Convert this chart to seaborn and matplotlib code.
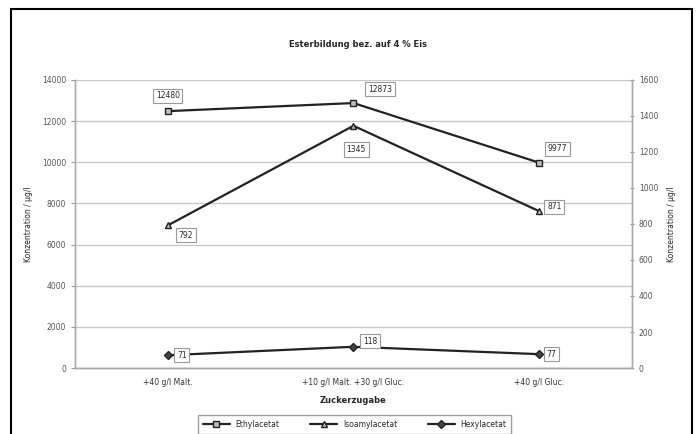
import matplotlib
matplotlib.use("Agg")
import matplotlib.pyplot as plt
import matplotlib.patches as mpatches
import pandas as pd
import seaborn as sns

categories = ['+40 g/l Malt.', '+10 g/l Malt. +30 g/l Gluc.', '+40 g/l Gluc.']
ethylacetat = [12480, 12873, 9977]
isoamylacetat = [792, 1345, 871]
hexylacetat = [71, 118, 77]

title = 'Esterbildung bez. auf 4 % Eis'
ylabel = 'Konzentration / µg/l'
xlabel = 'Zuckerzugabe'

sns.set_style('white')
plt.rcParams['font.family'] = ['DejaVu Sans']

df = pd.DataFrame({'pos': range(len(categories)), 'Ethylacetat': ethylacetat,
                   'Isoamylacetat': isoamylacetat, 'Hexylacetat': hexylacetat})

fig = plt.figure(figsize=(6.97, 4.34), dpi=100)
ax = fig.add_axes([0.1076, 0.152, 0.799, 0.664])
ax2 = ax.twinx()

sns.lineplot(data=df, x='pos', y='Ethylacetat', ax=ax, color='#222222', lw=1.6,
             marker='s', ms=5, mfc='#bbbbbb', mec='#222222', mew=1, label='Ethylacetat', legend=False)
sns.lineplot(data=df, x='pos', y='Isoamylacetat', ax=ax2, color='#222222', lw=1.6,
             marker='^', ms=5, mfc='#bbbbbb', mec='#222222', mew=1, label='Isoamylacetat', legend=False)
sns.lineplot(data=df, x='pos', y='Hexylacetat', ax=ax2, color='#222222', lw=1.6,
             marker='D', ms=4, mfc='#444444', mec='#222222', mew=1, label='Hexylacetat', legend=False)

ax.set_xlim(-0.5, 2.5)
ax.set_ylim(0, 14000)
ax2.set_ylim(0, 1600)
ax.set_yticks(range(0, 14001, 2000))
ax2.set_yticks(range(0, 1601, 200))
ax.set_xticks([0, 1, 2])
ax.set_xticklabels(categories)
ax.set_xticks([0.5, 1.5], minor=True)
ax.tick_params(axis='x', which='major', length=0, labelsize=5.5, colors='#333333', pad=7)
ax.tick_params(axis='x', which='minor', length=3, color='#999999')
ax.tick_params(axis='y', length=3, labelsize=5.5, colors='#555555', color='#999999')
ax2.tick_params(axis='y', length=3, direction='inout', labelsize=5.5, colors='#555555', color='#999999')
ax.yaxis.grid(True, color='#c8c8c8', lw=1)
ax.set_axisbelow(True)
for a in (ax, ax2):
    for s in a.spines.values():
        s.set_color('#aaaaaa')
        s.set_linewidth(1)
    a.spines['top'].set_visible(False)
ax.set_xlabel(xlabel, fontsize=6, fontweight='bold', labelpad=7)
ax.set_ylabel(ylabel, fontsize=5.5, labelpad=6)
ax2.set_ylabel(ylabel, fontsize=5.5, labelpad=6)
fig.text(0.513, 0.897, title, ha='center', va='center', fontsize=6, fontweight='bold')

box = dict(boxstyle='square,pad=0.35', fc='white', ec='#999999', lw=0.8)
def lab(a, x, y, dx, dy):
    a.annotate(str(y), (x, y), xytext=(dx, dy), textcoords='offset points',
               ha='center', va='center', fontsize=5.5, bbox=box, zorder=5)

lab(ax, 0, ethylacetat[0], 0, 11)
lab(ax, 1, ethylacetat[1], 19, 10)
lab(ax, 2, ethylacetat[2], 13, 10)
lab(ax2, 0, isoamylacetat[0], 13, -7)
lab(ax2, 1, isoamylacetat[1], 2, -17)
lab(ax2, 2, isoamylacetat[2], 11, 3)
lab(ax2, 0, hexylacetat[0], 10, 0)
lab(ax2, 1, hexylacetat[1], 12, 4)
lab(ax2, 2, hexylacetat[2], 9, 0)

h1, l1 = ax.get_legend_handles_labels()
h2, l2 = ax2.get_legend_handles_labels()
leg = fig.legend(h1 + h2, l1 + l2, ncol=3, loc='center', bbox_to_anchor=(0.509, 0.022),
                 fontsize=5.5, frameon=True, fancybox=False, edgecolor='#888888',
                 handlelength=3.5, columnspacing=4, borderpad=0.6)

fig.patches.append(mpatches.Rectangle((11 / 697, -0.1), 681 / 697, 1.1 - 9 / 434,
                                      transform=fig.transFigure, fill=False, ec='black', lw=1.5))

fig.savefig('out.png', dpi=100)
